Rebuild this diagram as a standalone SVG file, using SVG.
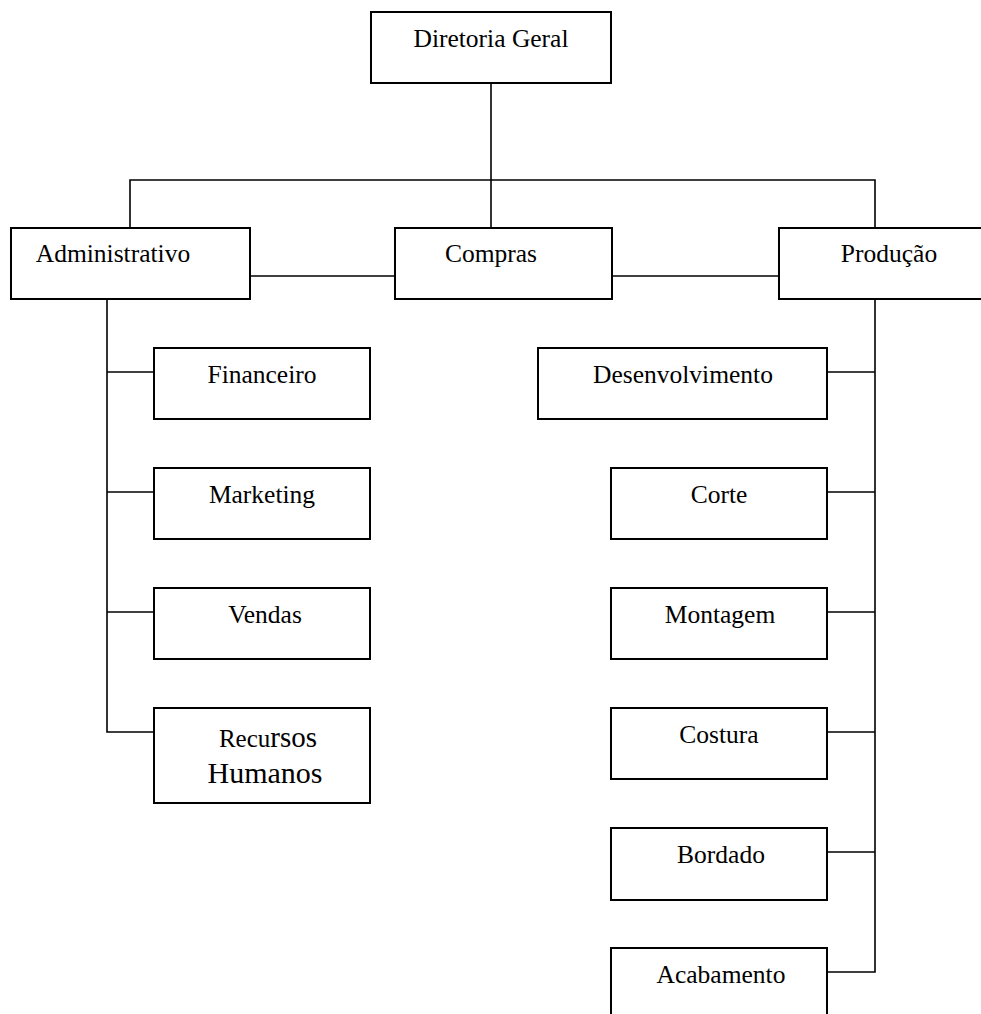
<svg xmlns="http://www.w3.org/2000/svg" width="981" height="1014" viewBox="0 0 981 1014">
<style>
rect{fill:#fff;stroke:#000;stroke-width:2}
.c line,.c polyline{stroke:#000;stroke-width:1.6;fill:none}
text{font-family:"Liberation Serif","Times New Roman",serif;font-size:25.5px;fill:#000;text-anchor:middle}
</style>
<rect x="0" y="0" width="981" height="1014" style="stroke:none"/>
<g class="c" id="connectors">
<line x1="491" y1="83" x2="491" y2="228"/>
<polyline points="130,228 130,180 875,180 875,228"/>
<line x1="250" y1="276" x2="395" y2="276"/>
<line x1="612" y1="276" x2="779" y2="276"/>
<polyline points="107,299 107,732 154,732"/>
<line x1="107" y1="372" x2="154" y2="372"/>
<line x1="107" y1="492" x2="154" y2="492"/>
<line x1="107" y1="612" x2="154" y2="612"/>
<polyline points="875,299 875,972 827,972"/>
<line x1="827" y1="372" x2="875" y2="372"/>
<line x1="827" y1="492" x2="875" y2="492"/>
<line x1="827" y1="612" x2="875" y2="612"/>
<line x1="827" y1="732" x2="875" y2="732"/>
<line x1="827" y1="852" x2="875" y2="852"/>
</g>
<g id="diretoria"><rect x="371" y="12" width="240" height="71"/><text x="491" y="47">Diretoria Geral</text></g>
<g id="administrativo"><rect x="11" y="228" width="239" height="71"/><text x="113" y="262">Administrativo</text></g>
<g id="compras"><rect x="395" y="228" width="217" height="71"/><text x="491" y="262">Compras</text></g>
<g id="producao"><rect x="779" y="228" width="205" height="71"/><text x="889" y="262">Produção</text></g>
<g id="financeiro"><rect x="154" y="348" width="216" height="71"/><text x="262" y="383">Financeiro</text></g>
<g id="marketing"><rect x="154" y="468" width="216" height="71"/><text x="262" y="503">Marketing</text></g>
<g id="vendas"><rect x="154" y="588" width="216" height="71"/><text x="265" y="623">Vendas</text></g>
<g id="rh"><rect x="154" y="708" width="216" height="95"/><text x="268" y="747" style="font-size:25px">Recu<tspan style="font-size:29px">rsos</tspan></text><text x="265" y="783" style="font-size:30px">Humanos</text></g>
<g id="desenvolvimento"><rect x="538" y="348" width="289" height="71"/><text x="683" y="383">Desenvolvimento</text></g>
<g id="corte"><rect x="611" y="468" width="216" height="71"/><text x="719" y="503">Corte</text></g>
<g id="montagem"><rect x="611" y="588" width="216" height="71"/><text x="720" y="623">Montagem</text></g>
<g id="costura"><rect x="611" y="708" width="216" height="71"/><text x="719" y="743">Costura</text></g>
<g id="bordado"><rect x="611" y="828" width="216" height="72"/><text x="721" y="863">Bordado</text></g>
<g id="acabamento"><rect x="611" y="948" width="216" height="80"/><text x="721" y="983">Acabamento</text></g>
</svg>
